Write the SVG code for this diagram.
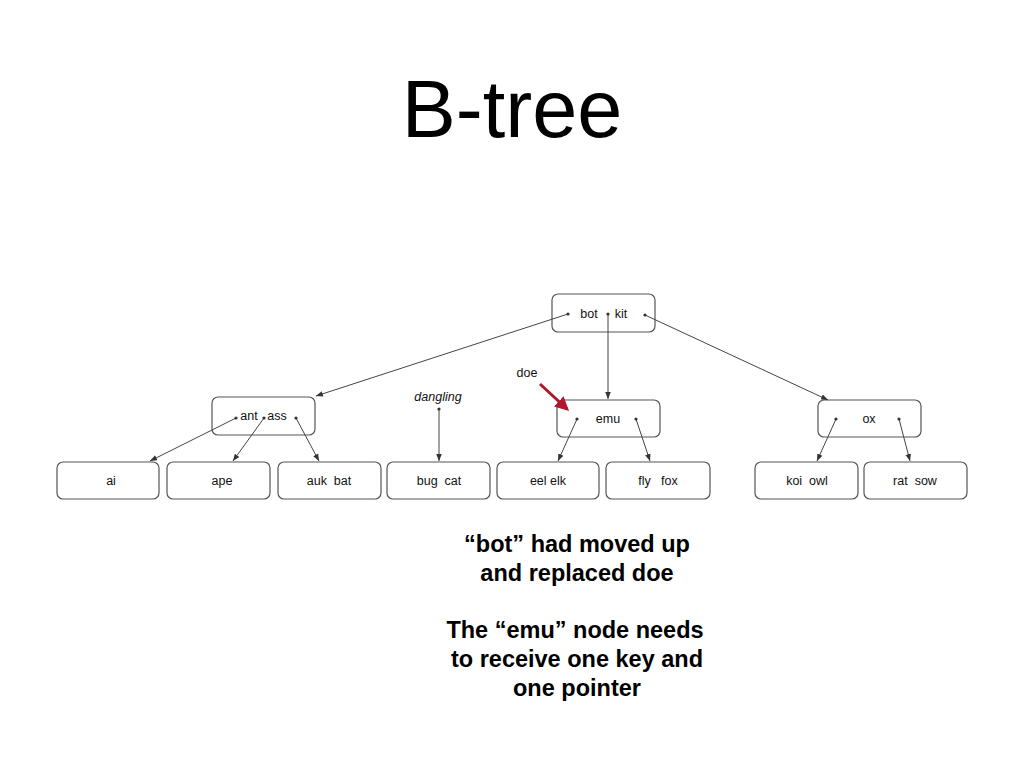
<svg xmlns="http://www.w3.org/2000/svg" width="1024" height="768" viewBox="0 0 1024 768">
<style>
.n{fill:#fff;stroke:#555;stroke-width:1.2}
.t{font-family:"Liberation Sans",Arial,sans-serif;font-size:12.5px;fill:#111;text-anchor:middle}
.c{stroke:#444;stroke-width:1;fill:none;marker-end:url(#ah);marker-start:url(#dot)}
.b{font-family:"Liberation Sans",Arial,sans-serif;font-size:23.5px;font-weight:bold;fill:#000;text-anchor:middle}
</style>
<defs>
<marker id="ah" viewBox="0 0 10 10" refX="10" refY="5" markerWidth="7" markerHeight="7" orient="auto" markerUnits="userSpaceOnUse"><path d="M0,1 L10,5 L0,9 z" fill="#333"/></marker>
<marker id="dot" viewBox="0 0 4 4" refX="2" refY="2" markerWidth="4" markerHeight="4" markerUnits="userSpaceOnUse"><circle cx="2" cy="2" r="1.6" fill="#333"/></marker>
<marker id="rah" viewBox="0 0 10 10" refX="8" refY="5" markerWidth="14" markerHeight="14" orient="auto" markerUnits="userSpaceOnUse"><path d="M0,0 L10,5 L0,10 z" fill="#b0182a"/></marker>
</defs>
<rect width="1024" height="768" fill="#fff"/>
<text x="512" y="137" font-family="Liberation Sans,Arial,sans-serif" font-size="81" text-anchor="middle" fill="#000">B-tree</text>

<g id="root"><rect class="n" x="552" y="294" width="103" height="38" rx="6"/><text class="t" x="589" y="318">bot</text><text class="t" x="621" y="318">kit</text></g>
<g id="n-antass"><rect class="n" x="212" y="397" width="103" height="38" rx="6"/><text class="t" x="249" y="420">ant</text><text class="t" x="277" y="420">ass</text></g>
<g id="n-emu"><rect class="n" x="557" y="400" width="103" height="37" rx="6"/><text class="t" x="608" y="423">emu</text></g>
<g id="n-ox"><rect class="n" x="818" y="400" width="103" height="37" rx="6"/><text class="t" x="869" y="423">ox</text></g>

<g id="l-ai"><rect class="n" x="57" y="462" width="102" height="37" rx="6"/><text class="t" x="111" y="485">ai</text></g>
<g id="l-ape"><rect class="n" x="167" y="462" width="103" height="37" rx="6"/><text class="t" x="222" y="485">ape</text></g>
<g id="l-aukbat"><rect class="n" x="278" y="462" width="103" height="37" rx="6"/><text class="t" x="329" y="485" xml:space="preserve">auk  bat</text></g>
<g id="l-bugcat"><rect class="n" x="387" y="462" width="103" height="37" rx="6"/><text class="t" x="439" y="485" xml:space="preserve">bug  cat</text></g>
<g id="l-eelelk"><rect class="n" x="497" y="462" width="102" height="37" rx="6"/><text class="t" x="548" y="485">eel elk</text></g>
<g id="l-flyfox"><rect class="n" x="606" y="462" width="104" height="37" rx="6"/><text class="t" x="658" y="485" xml:space="preserve">fly   fox</text></g>
<g id="l-koiowl"><rect class="n" x="755" y="462" width="103" height="37" rx="6"/><text class="t" x="807" y="485" xml:space="preserve">koi  owl</text></g>
<g id="l-ratsow"><rect class="n" x="864" y="462" width="103" height="37" rx="6"/><text class="t" x="915" y="485" xml:space="preserve">rat  sow</text></g>

<g id="connectors">
<line class="c" x1="568" y1="314" x2="316" y2="396"/>
<line class="c" x1="608" y1="314" x2="608" y2="399"/>
<line class="c" x1="645" y1="315" x2="828" y2="400"/>
<line class="c" x1="236" y1="418" x2="150" y2="461"/>
<line class="c" x1="264" y1="418" x2="233" y2="461"/>
<line class="c" x1="296" y1="418" x2="319" y2="461"/>
<line class="c" x1="439" y1="409" x2="439" y2="461"/>
<line class="c" x1="577" y1="419" x2="558" y2="461"/>
<line class="c" x1="636" y1="419" x2="650" y2="461"/>
<line class="c" x1="836" y1="419" x2="817" y2="461"/>
<line class="c" x1="899" y1="419" x2="910" y2="461"/>
<line x1="540" y1="384" x2="567" y2="409" stroke="#b0182a" stroke-width="3" marker-end="url(#rah)"/>
</g>

<text class="t" x="438" y="401" font-style="italic" font-size="11">dangling</text>
<text class="t" x="527" y="377" font-size="11">doe</text>

<text class="b" x="577" y="552">“bot” had moved up</text>
<text class="b" x="577" y="581">and replaced doe</text>
<text class="b" x="575" y="638">The “emu” node needs</text>
<text class="b" x="577" y="667">to receive one key and</text>
<text class="b" x="577" y="696">one pointer</text>
</svg>
